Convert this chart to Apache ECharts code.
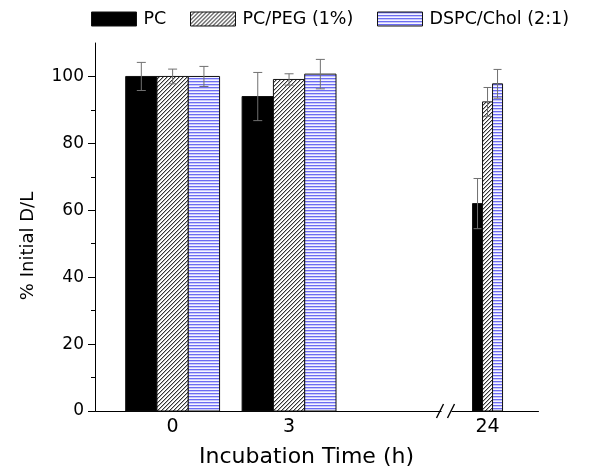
<!DOCTYPE html>
<html><head><meta charset="utf-8">
<script src="https://cdn.jsdelivr.net/npm/echarts@6/dist/echarts.min.js"></script>
<style>html,body{margin:0;padding:0;background:#fff}#c{width:593px;height:471px}</style>
</head><body><div id="c"></div>
<script>
// ---- data ----
const timePoints = [0, 3, 24];
const seriesNames = ['PC', 'PC/PEG (1%)', 'DSPC/Chol (2:1)'];
const pcValues = [100, 94.0, 62.0];
const pcErrors = [4.2, 7.2, 7.5];
const pegValues = [100, 99.1, 92.4];
const pegErrors = [2.2, 1.7, 4.3];
const dspcValues = [100, 100.7, 97.8];
const dspcErrors = [3.0, 4.4, 4.3];
const yTicks = [0, 20, 40, 60, 80, 100];
const yMinorTicks = [10, 30, 50, 70, 90];
const xTickLabels = [0, 3, 24];

// ---- styles ----
const FONT = 'DejaVu Sans';
const GROUP_BAR_W = [31.3, 31.3, 10];
const CAP_W = [9, 9, 8];

function makeHatch() {
  const c = document.createElement('canvas'); c.width = 4; c.height = 4;
  const g = c.getContext('2d');
  g.fillStyle = '#ffffff'; g.fillRect(0, 0, 4, 4);
  for (let i = 0; i < 4; i++) {
    g.fillStyle = '#333333'; g.fillRect(i, 3 - i, 1, 1);
    g.fillStyle = '#b5b5b5'; g.fillRect(i, (4 - i) % 4, 1, 1);
  }
  return c;
}
function makeBlue() {
  const c = document.createElement('canvas'); c.width = 2; c.height = 3;
  const g = c.getContext('2d');
  g.fillStyle = '#6c6cf2'; g.fillRect(0, 0, 2, 1);
  g.fillStyle = '#c8c8fb'; g.fillRect(0, 1, 2, 1);
  g.fillStyle = '#f5f5ff'; g.fillRect(0, 2, 2, 1);
  return c;
}
const fills = ['#000000', { image: makeHatch(), repeat: 'repeat' }, { image: makeBlue(), repeat: 'repeat' }];
const allValues = [pcValues, pegValues, dspcValues];
const allErrors = [pcErrors, pegErrors, dspcErrors];

function makeSeries(si) {
  const fill = fills[si];
  return {
    type: 'custom',
    name: seriesNames[si],
    encode: { x: 0, y: 1 },
    data: timePoints.map((t, i) => [t, allValues[si][i], allErrors[si][i]]),
    itemStyle: { color: fill, borderColor: '#111', borderWidth: 1 },
    renderItem: function (params, api) {
      const gi = params.dataIndex;
      const x = api.value(0), v = api.value(1), e = api.value(2);
      const w = GROUP_BAR_W[gi];
      const base = api.coord([x, 0]);
      const top = api.coord([x, v]);
      const cx = base[0] + (si - 1) * w;
      const eTop = api.coord([x, v + e])[1];
      const eBot = api.coord([x, v - e])[1];
      const cap = CAP_W[gi] / 2;
      const es = { stroke: '#707070', lineWidth: 1 };
      return {
        type: 'group',
        children: [
          { type: 'rect', shape: { x: cx - w / 2, y: top[1], width: w, height: base[1] - top[1] },
            style: { fill: fill, stroke: '#111', lineWidth: 1 } },
          { type: 'line', shape: { x1: cx, y1: eTop, x2: cx, y2: eBot }, style: es },
          { type: 'line', shape: { x1: cx - cap, y1: eTop, x2: cx + cap, y2: eTop }, style: es },
          { type: 'line', shape: { x1: cx - cap, y1: eBot, x2: cx + cap, y2: eBot }, style: es }
        ]
      };
    }
  };
}

const legendLeft = [91, 190, 377];
const chart = echarts.init(document.getElementById('c'), null, { renderer: 'canvas' });
chart.setOption({
  animation: false,
  backgroundColor: '#ffffff',
  grid: { left: 95, right: 55, top: 43, bottom: 60, containLabel: false, outerBoundsMode: 'none' },
  legend: seriesNames.map((n, i) => ({
    data: [{ name: n, icon: 'rect', itemStyle: { color: fills[i], borderColor: '#111', borderWidth: 1 } }],
    left: legendLeft[i], top: 10, padding: 0,
    itemWidth: 45, itemHeight: 14, selectedMode: false,
    textStyle: { fontFamily: FONT, fontSize: 17.5, color: '#000', padding: [0, 0, 0, 2] }
  })),
  xAxis: {
    type: 'value', min: -2, max: 25.3,
    breaks: [{ start: 7, end: 23, gap: '1%' }],
    breakArea: { show: false },
    axisLine: { show: true, onZero: false, lineStyle: { color: '#000', width: 1 } },
    axisTick: { show: false },
    axisLabel: { customValues: xTickLabels, fontFamily: FONT, fontSize: 19, color: '#000', margin: 7 },
    splitLine: { show: false },
    name: 'Incubation Time (h)', nameLocation: 'middle', nameGap: 35,
    nameTextStyle: { fontFamily: FONT, fontSize: 22, color: '#000', padding: [0, 20, 0, 0] }
  },
  yAxis: [{
    type: 'value', min: 0, max: 110, interval: 20, position: 'left',
    axisLine: { show: true, onZero: false, lineStyle: { color: '#000', width: 1 } },
    axisTick: { show: true, length: 7, customValues: yTicks, lineStyle: { color: '#000' } },
    axisLabel: { customValues: yTicks, fontFamily: FONT, fontSize: 17, color: '#000', margin: 11 },
    splitLine: { show: false },
    name: '% Initial D/L', nameLocation: 'middle', nameGap: 58,
    nameTextStyle: { fontFamily: FONT, fontSize: 18, color: '#000', padding: [0, 38, 0, 0] }
  }, {
    type: 'value', min: 0, max: 110, interval: 10, position: 'left',
    axisLine: { show: false, onZero: false },
    axisTick: { show: true, length: 4, customValues: yMinorTicks, lineStyle: { color: '#000' } },
    axisLabel: { show: false },
    splitLine: { show: false }
  }],
  series: [makeSeries(0), makeSeries(1), makeSeries(2)]
});

// axis break marker "//"
const p1 = chart.convertToPixel({ xAxisIndex: 0 }, 7);
const p2 = chart.convertToPixel({ xAxisIndex: 0 }, 23);
const bx = (p1 + p2) / 2;
const by = chart.convertToPixel({ yAxisIndex: 0 }, 0);
chart.setOption({
  graphic: [
    { type: 'rect', shape: { x: bx - 5, y: by - 2, width: 10, height: 4 }, style: { fill: '#fff' }, z: 100 },
    { type: 'line', shape: { x1: bx - 10, y1: by + 7, x2: bx - 3, y2: by - 7 }, style: { stroke: '#000', lineWidth: 1.4 }, z: 101 },
    { type: 'line', shape: { x1: bx + 1, y1: by + 7, x2: bx + 8, y2: by - 7 }, style: { stroke: '#000', lineWidth: 1.4 }, z: 101 }
  ]
});
</script></body></html>
